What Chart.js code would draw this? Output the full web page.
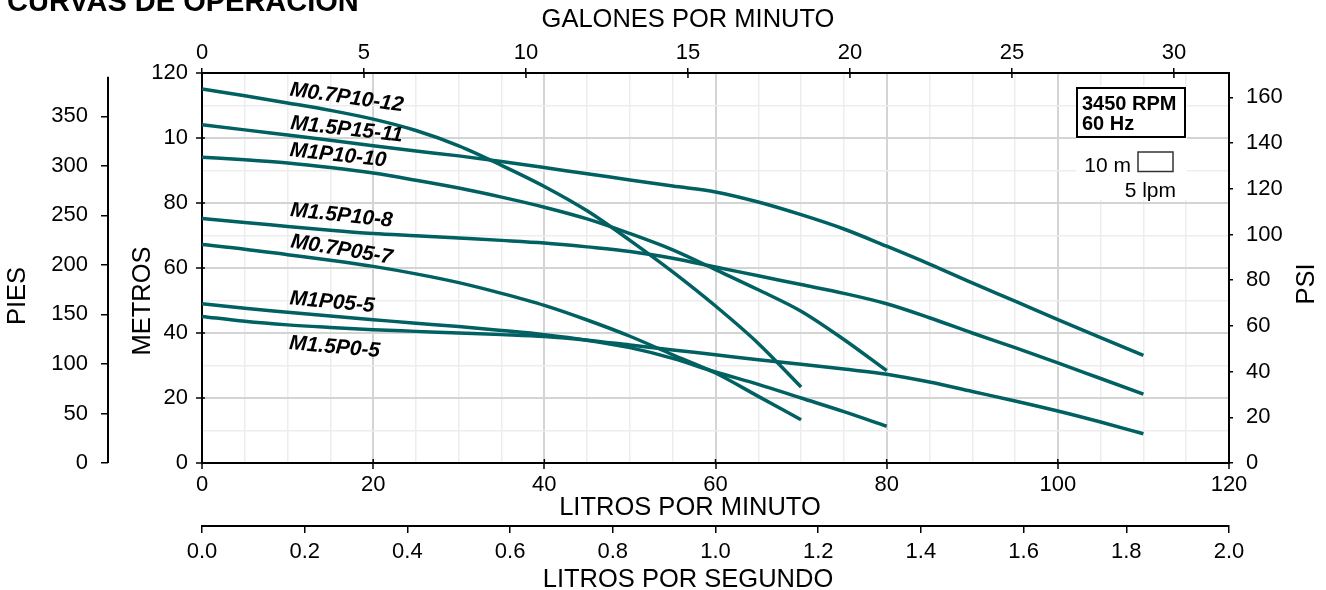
<!DOCTYPE html>
<html lang="es">
<head>
<meta charset="utf-8">
<title>Curvas de operación</title>
<script src="https://cdn.jsdelivr.net/npm/chart.js@4.4.1/dist/chart.umd.min.js"></script>
<style>
  html, body { margin: 0; padding: 0; background: #fff; }
  #wrap { width: 1326px; height: 590px; }
</style>
</head>
<body>
<div id="wrap"><canvas id="curvas" width="1326" height="590"></canvas></div>
<script>
// caudales (litros por minuto) de cada familia de bombas
const lpm70  = [0, 5, 10, 15, 20, 25, 30, 35, 40, 45, 50, 55, 60, 65, 70];
const lpm80  = [0, 5, 10, 15, 20, 25, 30, 35, 40, 45, 50, 55, 60, 65, 70, 75, 80];
const lpm110 = [0, 5, 10, 15, 20, 25, 30, 35, 40, 45, 50, 55, 60, 65, 70, 75, 80, 85, 90, 95, 100, 105, 110];

// altura (metros)
const m07p10_12 = [115.1, 113.0, 110.8, 108.5, 105.8, 102.3, 97.6, 91.6, 85.1, 77.6, 68.5, 58.8, 48.3, 36.8, 23.4];
const m07p05_7  = [67.2, 65.8, 64.1, 62.4, 60.5, 58.2, 55.5, 52.2, 48.5, 44.0, 39.0, 33.3, 27.7, 20.5, 13.3];
const m1p10_10  = [94.1, 93.3, 92.3, 90.9, 89.2, 87.0, 84.6, 81.8, 78.7, 75.1, 70.6, 65.6, 59.5, 53.3, 46.7, 38.0, 28.4];
const m1p05_5   = [49.0, 47.6, 46.4, 45.2, 44.1, 43.0, 42.0, 40.8, 39.5, 37.8, 35.5, 32.2, 28.0, 24.2, 20.0, 15.8, 11.3];
const m15p15_11 = [104.1, 102.5, 100.9, 99.3, 97.6, 96.0, 94.5, 92.8, 90.9, 89.0, 87.1, 85.2, 83.4, 80.3, 76.4, 72.0, 66.7, 61.2, 55.4, 49.8, 44.1, 38.6, 33.1];
const m15p10_8  = [75.2, 74.0, 72.8, 71.6, 70.6, 69.9, 69.2, 68.5, 67.7, 66.5, 65.1, 63.0, 60.3, 57.6, 54.9, 52.2, 49.0, 44.7, 40.0, 35.5, 30.8, 26.0, 21.2];
const m15p0_5   = [45.1, 43.6, 42.5, 41.7, 41.0, 40.5, 40.0, 39.5, 38.9, 37.8, 36.3, 34.8, 33.3, 31.8, 30.4, 28.9, 27.3, 24.9, 22.0, 19.1, 16.0, 12.6, 9.0];

const modelos = ['M0.7P10-12', 'M1.5P15-11', 'M1P10-10', 'M1.5P10-8', 'M0.7P05-7', 'M1P05-5', 'M1.5P0-5'];
const caudales = [lpm70, lpm110, lpm80, lpm110, lpm70, lpm80, lpm110];
const alturas  = [m07p10_12, m15p15_11, m1p10_10, m15p10_8, m07p05_7, m1p05_5, m15p0_5];

// conversiones de unidades para los ejes secundarios
const LPM_POR_GPM = 3.78541;
const PIES_POR_M = 3.28084;
const PSI_POR_M = 1.42197;

const FUENTE = "'Liberation Sans', Arial, sans-serif";
const TEAL = '#006062';
const NEGRO = '#000';

// dónde va cada rótulo de curva (en unidades de la gráfica) y su giro
const rotulos = [
  { lpm: 16.9, m: 112.4, ang: 8 },
  { lpm: 16.9, m: 102.6, ang: 6.5 },
  { lpm: 15.9, m: 94.6, ang: 6.3 },
  { lpm: 16.3, m: 76.1, ang: 6 },
  { lpm: 16.3, m: 65.6, ang: 9.3 },
  { lpm: 15.2, m: 49.4, ang: 5.2 },
  { lpm: 15.5, m: 35.6, ang: 5 }
];

const mayor = v => Math.abs(v % 20) < 1e-6;
const alto = h => s => { s.height = h; };
const ancho = w => s => { s.width = w; };
const fuenteTick = { family: FUENTE, size: 22 };

const datasets = modelos.map((nombre, i) => ({
  label: nombre,
  data: caudales[i].map((q, j) => ({ x: q, y: alturas[i][j] })),
  borderColor: TEAL,
  borderWidth: 3.5,
  pointRadius: 0,
  cubicInterpolationMode: 'monotone',
  xAxisID: 'x',
  yAxisID: 'y'
}));

// textos, caja de RPM y detalles de los ejes
const decoracion = {
  id: 'decoracion',
  afterDraw(chart) {
    const { ctx, scales } = chart;
    const { x, y, xg, yf } = scales;
    ctx.save();
    ctx.fillStyle = NEGRO;
    ctx.strokeStyle = NEGRO;

    // marcas hacia dentro
    ctx.lineWidth = 1.5;
    ctx.beginPath();
    x.ticks.forEach(t => { if (mayor(t.value)) { const p = x.getPixelForValue(t.value); ctx.moveTo(p, 463); ctx.lineTo(p, 459); } });
    y.ticks.forEach(t => { if (mayor(t.value)) { const p = y.getPixelForValue(t.value); ctx.moveTo(202, p); ctx.lineTo(205, p); } });
    xg.ticks.forEach(t => { const p = xg.getPixelForValue(t.value); ctx.moveTo(p, 73); ctx.lineTo(p, 78); });
    ctx.stroke();

    // línea del eje de pies
    ctx.lineWidth = 2;
    ctx.beginPath();
    ctx.moveTo(108, yf.getPixelForValue(0));
    ctx.lineTo(108, yf.getPixelForValue(390));
    ctx.stroke();

    // título
    ctx.font = `bold 29px ${FUENTE}`;
    ctx.textAlign = 'left';
    ctx.textBaseline = 'alphabetic';
    ctx.fillText('CURVAS DE OPERACIÓN', 7, 11);

    // títulos de ejes
    ctx.font = `25.5px ${FUENTE}`;
    ctx.textAlign = 'center';
    ctx.textBaseline = 'middle';
    ctx.fillText('GALONES POR MINUTO', 688, 20);
    ctx.fillText('LITROS POR MINUTO', 690, 508);
    ctx.fillText('LITROS POR SEGUNDO', 688, 580);
    [['PIES', 18, 296], ['METROS', 143, 301], ['PSI', 1307, 284]].forEach(([t, px, py]) => {
      ctx.save();
      ctx.translate(px, py);
      ctx.rotate(-Math.PI / 2);
      ctx.fillText(t, 0, 0);
      ctx.restore();
    });

    // rótulos de las curvas
    ctx.font = `italic bold 21px ${FUENTE}`;
    rotulos.forEach((r, i) => {
      ctx.save();
      ctx.translate(x.getPixelForValue(r.lpm), y.getPixelForValue(r.m));
      ctx.rotate(r.ang * Math.PI / 180);
      ctx.fillText(modelos[i], 0, 0);
      ctx.restore();
    });

    // caja 3450 RPM / escala
    ctx.fillStyle = '#fff';
    ctx.fillRect(1076, 86, 111, 114);
    ctx.fillStyle = NEGRO;
    ctx.lineWidth = 2;
    ctx.strokeRect(1077, 88, 108, 49);
    ctx.font = `bold 20px ${FUENTE}`;
    ctx.textAlign = 'left';
    ctx.textBaseline = 'alphabetic';
    ctx.fillText('3450 RPM', 1082, 110);
    ctx.fillText('60 Hz', 1082, 130);
    ctx.font = `21px ${FUENTE}`;
    ctx.textAlign = 'right';
    ctx.fillText('10 m', 1131, 172);
    ctx.fillText('5 lpm', 1176, 197);
    ctx.strokeStyle = '#333';
    ctx.lineWidth = 1.5;
    ctx.strokeRect(1138, 152, 35, 19.5);

    ctx.restore();
  }
};

new Chart(document.getElementById('curvas'), {
  type: 'line',
  data: { datasets },
  options: {
    responsive: false,
    animation: false,
    devicePixelRatio: 1,
    layout: { padding: 0 },
    plugins: { legend: { display: false }, tooltip: { enabled: false } },
    scales: {
      x: {
        type: 'linear', position: 'bottom', weight: 0, min: 0, max: 120,
        afterFit: alto(63),
        border: { color: NEGRO, width: 2 },
        grid: {
          color: c => mayor(c.tick.value) ? '#d4d4d4' : '#ededed',
          lineWidth: c => mayor(c.tick.value) ? 2 : 1.5,
          tickColor: c => mayor(c.tick.value) ? NEGRO : 'rgba(0,0,0,0)',
          tickWidth: 1.5, tickLength: 6
        },
        ticks: { stepSize: 5, autoSkip: false, maxRotation: 0, padding: 3, color: NEGRO, font: fuenteTick,
                 callback: v => mayor(v) ? v : '' }
      },
      xs: {
        type: 'linear', position: 'bottom', weight: 1, min: 0, max: 2,
        afterFit: alto(64),
        border: { color: NEGRO, width: 2 },
        grid: { drawOnChartArea: false, color: NEGRO, lineWidth: 1.5, tickLength: 7 },
        ticks: { stepSize: 0.2, autoSkip: false, maxRotation: 0, padding: 6, color: NEGRO, font: fuenteTick,
                 callback: v => v.toFixed(1) }
      },
      xg: {
        type: 'linear', position: 'top', min: 0, max: 120 / LPM_POR_GPM,
        afterFit: alto(73),
        border: { color: NEGRO, width: 2 },
        grid: { drawOnChartArea: false, color: NEGRO, lineWidth: 1.5, tickLength: 5 },
        ticks: { stepSize: 5, includeBounds: false, autoSkip: false, maxRotation: 0, padding: 2, color: NEGRO, font: fuenteTick }
      },
      y: {
        type: 'linear', position: 'left', weight: 0, min: 0, max: 120,
        afterFit: ancho(94),
        border: { color: NEGRO, width: 2 },
        grid: {
          color: c => mayor(c.tick.value) ? '#d4d4d4' : '#ededed',
          lineWidth: c => mayor(c.tick.value) ? 2 : 1.5,
          tickColor: c => mayor(c.tick.value) ? NEGRO : 'rgba(0,0,0,0)',
          tickWidth: 1.5, tickLength: 6
        },
        ticks: { stepSize: 10, autoSkip: false, padding: 8, color: NEGRO, font: fuenteTick,
                 callback: v => mayor(v) ? (v === 100 ? '10' : v) : '' }
      },
      yf: {
        type: 'linear', position: 'left', weight: 1, min: 0, max: 120 * PIES_POR_M,
        afterFit: ancho(108),
        border: { display: false },
        grid: { drawOnChartArea: false, color: NEGRO, lineWidth: 1.5, tickLength: 7 },
        ticks: { stepSize: 50, includeBounds: false, autoSkip: false, padding: 13, color: NEGRO, font: fuenteTick }
      },
      yp: {
        type: 'linear', position: 'right', min: 0, max: 120 * PSI_POR_M,
        afterFit: ancho(97),
        border: { color: NEGRO, width: 2 },
        grid: { drawOnChartArea: false, color: NEGRO, lineWidth: 1.5, tickLength: 4 },
        ticks: { stepSize: 20, includeBounds: false, autoSkip: false, padding: 13, color: NEGRO, font: fuenteTick }
      }
    }
  },
  plugins: [decoracion]
});
</script>
</body>
</html>
